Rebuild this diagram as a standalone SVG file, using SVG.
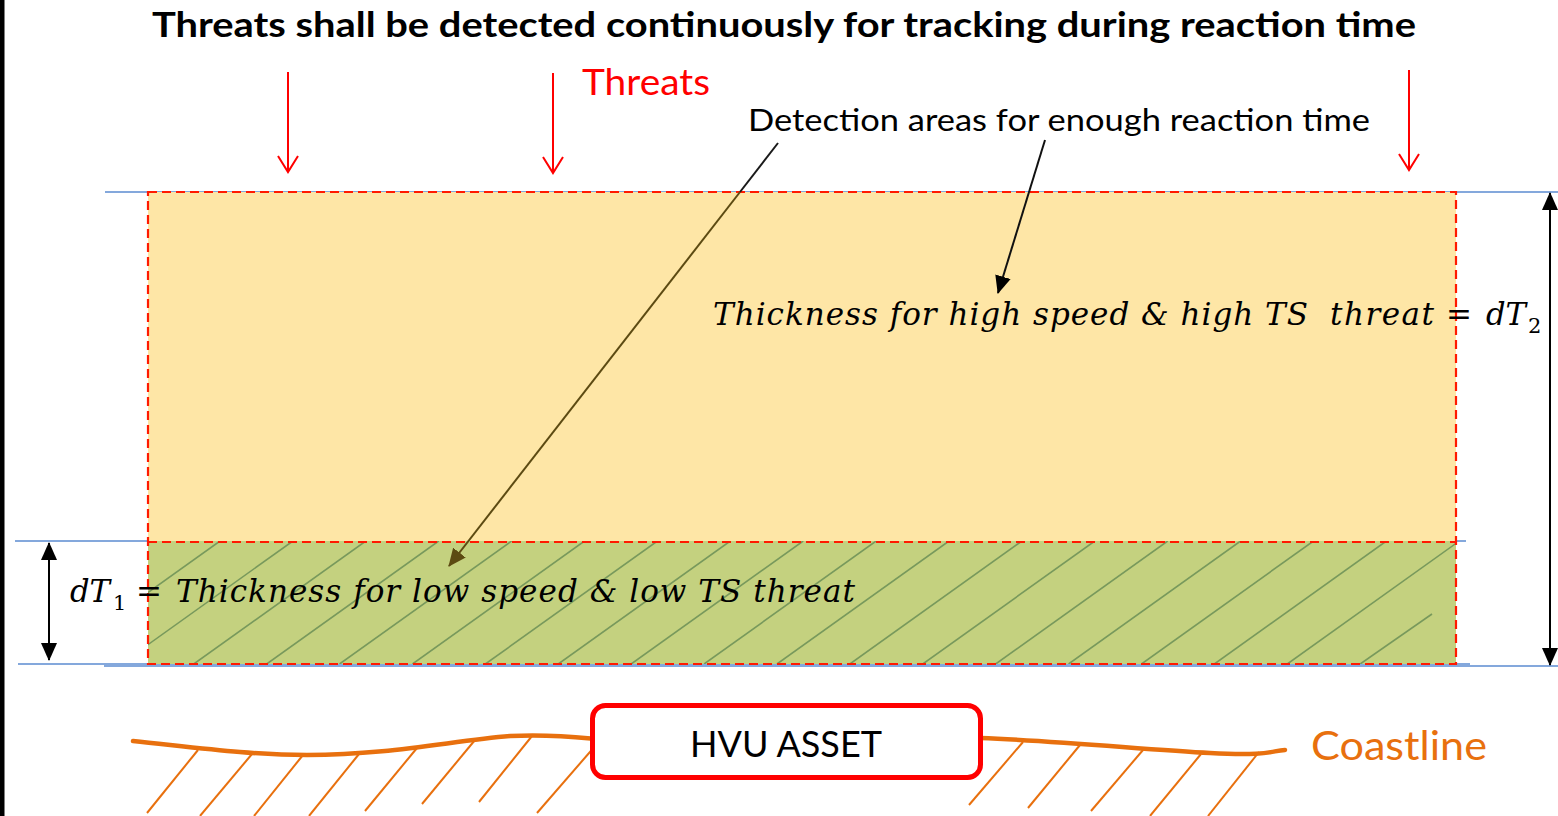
<svg xmlns="http://www.w3.org/2000/svg" width="1558" height="816" viewBox="0 0 1558 816">
<style>
.sans{font-family:Lato,"Liberation Sans",sans-serif;}
.math{font-family:"DejaVu Serif","Liberation Serif",serif;font-style:italic;fill:#000;}
.sub{font-family:"DejaVu Serif","Liberation Serif",serif;fill:#000;}
.blue{stroke:#5B8BD0;stroke-width:1.6;fill:none;}
.threat{stroke:#FF0000;stroke-width:2;fill:none;}
.hatch{stroke:#78995C;stroke-width:1.6;}
.coast{stroke:#E8700E;stroke-width:2;fill:none;}
.dim{stroke:#000;stroke-width:2;fill:none;}
</style>
<defs>
<marker id="openRed" markerUnits="userSpaceOnUse" markerWidth="20" markerHeight="24" viewBox="0 0 20 24" refX="17" refY="12" orient="auto">
<path d="M1,2 L17,12 L1,22" fill="none" stroke="#FF0000" stroke-width="2"/>
</marker>
<marker id="triBlack" markerUnits="userSpaceOnUse" markerWidth="18" markerHeight="16" viewBox="0 0 18 16" refX="17" refY="8" orient="auto-start-reverse">
<path d="M0,0 L18,8 L0,16 z" fill="#000"/>
</marker>
<marker id="triOlive" markerUnits="userSpaceOnUse" markerWidth="18" markerHeight="16" viewBox="0 0 18 16" refX="17" refY="8" orient="auto">
<path d="M0,0 L18,8 L0,16 z" fill="#5C4A12"/>
</marker>
<clipPath id="greenClip"><rect x="148" y="541" width="1308" height="123"/></clipPath>
</defs>

<rect x="0" y="0" width="4.5" height="816" fill="#000"/>

<g id="title">
<text class="sans" x="152" y="37" font-size="35" font-weight="bold" textLength="1264" lengthAdjust="spacingAndGlyphs">Threats shall be detected continuously for tracking during reaction time</text>
</g>

<g id="threats-label">
<text class="sans" x="582" y="95" font-size="37" fill="#FF0000" textLength="128" lengthAdjust="spacingAndGlyphs">Threats</text>
</g>

<g id="detection-label">
<text class="sans" x="748" y="131" font-size="31" fill="#000" textLength="622" lengthAdjust="spacingAndGlyphs">Detection areas for enough reaction time</text>
</g>

<g id="guide-lines">
<line class="blue" x1="105" y1="192" x2="1558" y2="192"/>
<line class="blue" x1="15" y1="541" x2="1466" y2="541"/>
<line class="blue" x1="18" y1="664" x2="1470" y2="664"/>
<line class="blue" x1="104" y1="666" x2="1558" y2="666"/>
</g>

<g id="zone-high">
<rect x="148" y="192" width="1308" height="349" fill="#FEE6A6"/>
</g>

<g id="zone-low">
<rect x="148" y="541" width="1308" height="123" fill="#C4D17F"/>
<g clip-path="url(#greenClip)">
<line class="hatch" x1="220" y1="541" x2="48" y2="664"/>
<line class="hatch" x1="292.9" y1="541" x2="120.9" y2="664"/>
<line class="hatch" x1="365.8" y1="541" x2="193.8" y2="664"/>
<line class="hatch" x1="438.7" y1="541" x2="266.7" y2="664"/>
<line class="hatch" x1="511.6" y1="541" x2="339.6" y2="664"/>
<line class="hatch" x1="584.5" y1="541" x2="412.5" y2="664"/>
<line class="hatch" x1="657.4" y1="541" x2="485.4" y2="664"/>
<line class="hatch" x1="730.3" y1="541" x2="558.3" y2="664"/>
<line class="hatch" x1="803.2" y1="541" x2="631.2" y2="664"/>
<line class="hatch" x1="876.1" y1="541" x2="704.1" y2="664"/>
<line class="hatch" x1="949" y1="541" x2="777" y2="664"/>
<line class="hatch" x1="1021.9" y1="541" x2="849.9" y2="664"/>
<line class="hatch" x1="1094.8" y1="541" x2="922.8" y2="664"/>
<line class="hatch" x1="1167.7" y1="541" x2="995.7" y2="664"/>
<line class="hatch" x1="1240.6" y1="541" x2="1068.6" y2="664"/>
<line class="hatch" x1="1313.5" y1="541" x2="1141.5" y2="664"/>
<line class="hatch" x1="1386.4" y1="541" x2="1214.4" y2="664"/>
<line class="hatch" x1="1459.3" y1="541" x2="1287.3" y2="664"/>
<line class="hatch" x1="1432" y1="614" x2="1360.2" y2="664"/>
</g>
</g>

<g id="zone-borders" fill="none" stroke="#FF1A00" stroke-width="2.2" stroke-dasharray="9,5">
<rect x="148" y="192" width="1308" height="472"/>
<line x1="148" y1="542" x2="1456" y2="542"/>
</g>

<g id="label-high">
<text class="math" x="713" y="325" font-size="31" textLength="595" lengthAdjust="spacing">Thickness for high speed &amp; high TS</text>
<text class="math" x="1330" y="325" font-size="31" textLength="104" lengthAdjust="spacing">threat</text>
<text class="sub" x="1446" y="325" font-size="31">=</text>
<text class="math" x="1486" y="325" font-size="31" textLength="40" lengthAdjust="spacingAndGlyphs">dT</text>
<text class="sub" x="1528" y="333" font-size="21">2</text>
</g>

<g id="label-low">
<text class="math" x="70" y="602" font-size="31" textLength="40" lengthAdjust="spacingAndGlyphs">dT</text>
<text class="sub" x="113" y="610" font-size="21">1</text>
<text class="sub" x="136" y="602" font-size="31">=</text>
<text class="math" x="176" y="602" font-size="31" textLength="679" lengthAdjust="spacing">Thickness for low speed &amp; low TS threat</text>
</g>

<g id="coastline">
<path d="M133,741 C200,748 250,755 307,755 C390,755 450,741 510,736 C550,734 575,737 595,739" stroke="#E8700E" stroke-width="4.5" fill="none" stroke-linecap="round"/>
<path d="M980,738 C1060,741 1150,750 1210,753 S1270,751 1285,750" stroke="#E8700E" stroke-width="4.5" fill="none" stroke-linecap="round"/>
<line class="coast" x1="198" y1="750" x2="147" y2="813"/>
<line class="coast" x1="252" y1="754" x2="200" y2="816"/>
<line class="coast" x1="303" y1="755" x2="254" y2="816"/>
<line class="coast" x1="359" y1="754" x2="309" y2="816"/>
<line class="coast" x1="417" y1="748" x2="365" y2="811"/>
<line class="coast" x1="475" y1="740" x2="422" y2="804"/>
<line class="coast" x1="532" y1="736" x2="479" y2="802"/>
<line class="coast" x1="596" y1="745" x2="537" y2="813"/>
<line class="coast" x1="1023" y1="742" x2="969" y2="805"/>
<line class="coast" x1="1080" y1="745" x2="1028" y2="808"/>
<line class="coast" x1="1143" y1="750" x2="1091" y2="811"/>
<line class="coast" x1="1201" y1="754" x2="1150" y2="816"/>
<line class="coast" x1="1259" y1="752" x2="1208" y2="816"/>
<text class="sans" x="1311" y="760" font-size="41" fill="#E8700E" textLength="176" lengthAdjust="spacingAndGlyphs">Coastline</text>
</g>

<g id="hvu-asset">
<rect x="592.5" y="705.5" width="388" height="72" rx="13" ry="13" fill="#FFFFFF" stroke="#FF0000" stroke-width="5"/>
<text class="sans" x="690" y="757" font-size="37" fill="#000" textLength="192" lengthAdjust="spacingAndGlyphs">HVU ASSET</text>
</g>

<g id="connectors">
<line class="threat" x1="288" y1="72" x2="288" y2="172" marker-end="url(#openRed)"/>
<line class="threat" x1="553" y1="73" x2="553" y2="173" marker-end="url(#openRed)"/>
<line class="threat" x1="1409" y1="70" x2="1409" y2="170" marker-end="url(#openRed)"/>
<line x1="778" y1="143" x2="740" y2="192" stroke="#1A1A1A" stroke-width="2"/>
<line x1="740" y1="192" x2="449" y2="566" stroke="#5C4A12" stroke-width="2" marker-end="url(#triOlive)"/>
<line x1="1045" y1="140" x2="998" y2="293" stroke="#111" stroke-width="2" marker-end="url(#triBlack)"/>
<line class="dim" x1="49" y1="543" x2="49" y2="660" marker-start="url(#triBlack)" marker-end="url(#triBlack)"/>
<line class="dim" x1="1550" y1="193" x2="1550" y2="665" marker-start="url(#triBlack)" marker-end="url(#triBlack)"/>
</g>
</svg>
